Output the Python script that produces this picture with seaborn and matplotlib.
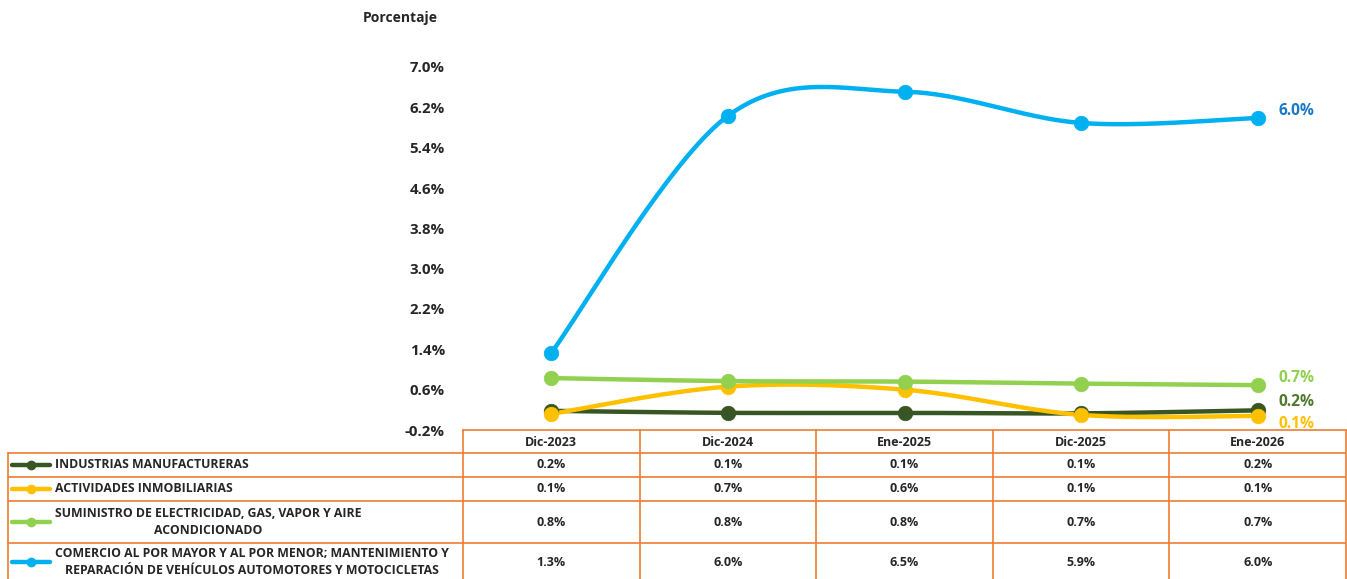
import matplotlib
matplotlib.use("Agg")
import matplotlib.pyplot as plt
import seaborn as sns
import numpy as np

# =========================
# Data
# =========================

periods = ["Dic-2023", "Dic-2024", "Ene-2025", "Dic-2025", "Ene-2026"]

series_names = [
    "INDUSTRIAS MANUFACTURERAS",
    "ACTIVIDADES INMOBILIARIAS",
    "SUMINISTRO DE ELECTRICIDAD, GAS, VAPOR Y AIRE\nACONDICIONADO",
    "COMERCIO AL POR MAYOR Y AL POR MENOR; MANTENIMIENTO Y\nREPARACIÓN DE VEHÍCULOS AUTOMOTORES Y MOTOCICLETAS",
]

manufactureras = [0.18, 0.14, 0.14, 0.13, 0.19]
inmobiliarias = [0.12, 0.66, 0.60, 0.10, 0.08]
electricidad = [0.83, 0.77, 0.76, 0.72, 0.69]
comercio = [1.33, 6.03, 6.51, 5.89, 5.99]

all_series = [manufactureras, inmobiliarias, electricidad, comercio]

y_ticks = [-0.2, 0.6, 1.4, 2.2, 3.0, 3.8, 4.6, 5.4, 6.2, 7.0]

# =========================
# Styles
# =========================

line_colors = ["#375623", "#FFC000", "#92D050", "#00B0F0"]
label_colors = ["#4E7A2E", "#FFC000", "#92D050", "#1878C8"]
label_offsets = [6, -6, 5, 5]
border = "#ED7D31"

sns.set_style("white")
plt.rcParams["font.family"] = ["Open Sans", "DejaVu Sans"]
plt.rcParams["font.weight"] = "bold"

W, H = 1347, 579
fig = plt.figure(figsize=(W / 100, H / 100), dpi=100)


def fx(px):
    return px / W


def fy(py):
    return 1 - py / H


# Excel-like smoothed line (bezier through the points)
def smooth(xs, ys, n=40):
    pts = np.column_stack([xs, ys]).astype(float)
    out = [pts[0]]
    for i in range(len(pts) - 1):
        p0 = pts[i - 1] if i > 0 else pts[i]
        p1, p2 = pts[i], pts[i + 1]
        p3 = pts[i + 2] if i + 2 < len(pts) else pts[i + 1]
        c1 = p1 + (p2 - p0) / 6
        c2 = p2 - (p3 - p1) / 6
        t = np.linspace(0, 1, n)[1:, None]
        seg = (1 - t) ** 3 * p1 + 3 * (1 - t) ** 2 * t * c1 \
            + 3 * (1 - t) * t ** 2 * c2 + t ** 3 * p2
        out.extend(seg)
    return np.array(out)


# =========================
# Line chart
# =========================

ax = fig.add_axes([fx(463), fy(430), fx(1346) - fx(463), fy(67) - fy(430)])
ax.set_facecolor("none")

x_pos = np.arange(len(periods))

for vals, col, lcol, off in zip(all_series, line_colors, label_colors, label_offsets):
    curve = smooth(x_pos, vals)
    sns.lineplot(x=curve[:, 0], y=curve[:, 1], ax=ax, color=col,
                 linewidth=3.2, sort=False, estimator=None)
    sns.scatterplot(x=x_pos, y=vals, ax=ax, color=col, s=110,
                    edgecolor=col, linewidth=0.5, zorder=3, clip_on=False)
    ax.annotate(f"{vals[-1]:.1f}%", (x_pos[-1], vals[-1]),
                xytext=(15, off), textcoords="offset points",
                ha="left", va="center", color=lcol,
                fontsize=11.2, fontweight="bold")

ax.set_xlim(-0.5, len(periods) - 0.5)
ax.set_ylim(-0.2, 7.0)
ax.set_yticks(y_ticks)
ax.set_yticklabels([f"{v:.1f}%" for v in y_ticks], fontsize=10.8,
                   fontweight="bold")
ax.set_xticks([])
ax.tick_params(axis="y", length=0, pad=13)
sns.despine(ax=ax, left=True, bottom=True)

fig.text(fx(400), fy(18), "Porcentaje", ha="center", va="center",
         fontsize=10, fontweight="bold")

# =========================
# Data table
# =========================

tab = fig.add_axes([0, 0, 1, 1])
tab.set_facecolor("none")
tab.set_xlim(0, W)
tab.set_ylim(H, 0)
tab.axis("off")

col_edges = np.linspace(463, 1346, len(periods) + 1)
row_edges = [453, 477, 501, 543, 581]

# header row
tab.plot([463, 1346], [430, 430], color=border, lw=1.2)
for xe in col_edges:
    tab.plot([xe, xe], [430, 581], color=border, lw=1.2)
for i, p in enumerate(periods):
    tab.text((col_edges[i] + col_edges[i + 1]) / 2, 442, p, ha="center",
             va="center", fontsize=9, fontweight="bold")

# body rows
tab.plot([8, 8], [453, 581], color=border, lw=1.2)
for ye in row_edges[:-1]:
    tab.plot([8, 1346], [ye, ye], color=border, lw=1.2)

for r, (name, vals, col) in enumerate(zip(series_names, all_series, line_colors)):
    yc = (row_edges[r] + row_edges[r + 1]) / 2
    tab.plot([12, 50], [yc, yc], color=col, lw=3.2, solid_capstyle="round")
    tab.plot([31], [yc], marker="o", color=col, markersize=6)
    tab.text(55, yc, name, ha="left", va="center", multialignment="center",
             fontsize=8.8, fontweight="bold", linespacing=1.45)
    for i, v in enumerate(vals):
        tab.text((col_edges[i] + col_edges[i + 1]) / 2, yc, f"{v:.1f}%",
                 ha="center", va="center", fontsize=9, fontweight="bold")

fig.savefig("out.png", dpi=100)
